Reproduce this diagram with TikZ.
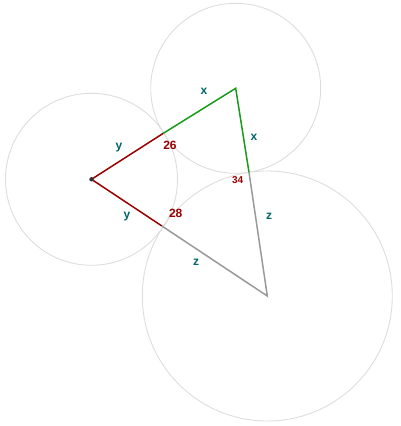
\documentclass[tikz,border=0pt]{standalone}
\usepackage{fontspec}
\setmainfont{Liberation Sans}
\definecolor{dred}{HTML}{990000}
\definecolor{lgreen}{HTML}{1A9A1A}
\definecolor{lgray}{HTML}{999999}
\definecolor{cgray}{HTML}{DDDDDD}
\definecolor{tealtxt}{HTML}{006666}
\tikzset{
  circ/.style={draw=cgray, line width=0.9pt},
  seg/.style={line width=1.5pt},
  lbl/.style={text=tealtxt, font=\bfseries\fontsize{12}{12}\selectfont, inner sep=0pt},
  num/.style={text=dred, font=\bfseries\fontsize{12}{12}\selectfont, inner sep=0pt},
  nums/.style={text=dred, font=\bfseries\fontsize{10}{10}\selectfont, inner sep=0pt}
}
\begin{document}
\begin{tikzpicture}[x=1pt,y=-1pt]
\useasboundingbox (0,0) rectangle (400,426);
\coordinate (A) at (91.5,179.3);
\coordinate (B) at (235.7,88.3);
\coordinate (C) at (267.3,296);
\coordinate (P) at (163.3,133.3);
\coordinate (Q) at (249,172.3);
\coordinate (R) at (161.9,226);
\draw[circ] (A) circle (86);
\draw[circ] (B) circle (85);
\draw[circ] (C) circle (125);
\draw[seg, dred] (A) -- (P);
\draw[seg, dred] (A) -- (R);
\draw[seg, lgreen] (P) -- (B) -- (Q);
\draw[seg, lgray] (Q) -- (C) -- (R);
\fill[black!80] (A) circle (2.2);
\node[lbl] (x1) at (204,91) {x};
\node[lbl] (x2) at (254,137) {x};
\node[lbl] (y1) at (119,148) {y};
\node[lbl] (y2) at (127,217) {y};
\node[lbl] (z1) at (269,216) {z};
\node[lbl] (z2) at (196,262) {z};
\node[num] (n26) at (170,145) {26};
\node[num] (n28) at (175.7,213) {28};
\node[nums] (n34) at (237.7,180) {34};
\end{tikzpicture}
\end{document}
